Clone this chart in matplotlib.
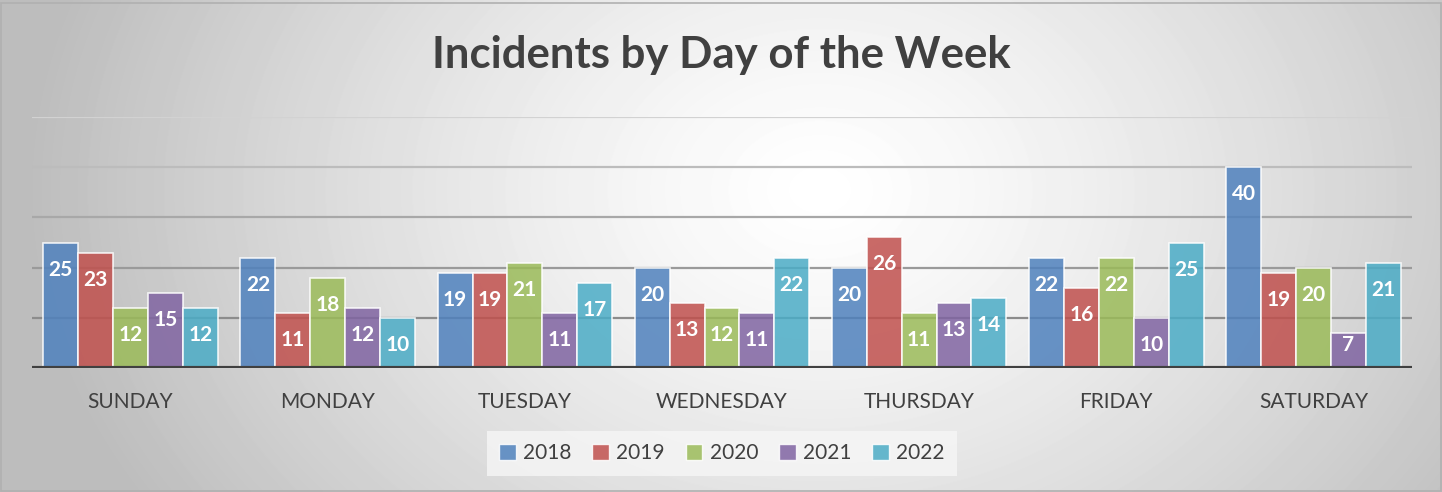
import numpy as np
import matplotlib.pyplot as plt
from matplotlib.patches import Patch, Rectangle

days = ['SUNDAY', 'MONDAY', 'TUESDAY', 'WEDNESDAY', 'THURSDAY', 'FRIDAY', 'SATURDAY']
years = ['2018', '2019', '2020', '2021', '2022']
v2018 = [25, 22, 19, 20, 20, 22, 40]
v2019 = [23, 11, 19, 13, 26, 16, 19]
v2020 = [12, 18, 21, 12, 11, 22, 20]
v2021 = [15, 12, 11, 11, 13, 10, 7]
v2022 = [12, 10, 17, 22, 14, 25, 21]
series = [v2018, v2019, v2020, v2021, v2022]
colors = ['#4F81BD', '#C0504D', '#9BBB59', '#8064A2', '#4BACC6']

plt.rcParams['font.family'] = ['Lato', 'DejaVu Sans']

fig = plt.figure(figsize=(14.42, 4.92), dpi=100)

# background gradient
bg = fig.add_axes([0, 0, 1, 1], zorder=-2)
yy, xx = np.mgrid[0:492, 0:1442]
d = np.sqrt(((xx - 820) / 1442.0) ** 2 + ((yy - 190) / 492.0 * 0.45) ** 2)
img = 1 - 0.26 * np.clip(d / 0.55, 0, 1) ** 1.3
bg.imshow(img, cmap='gray', vmin=0, vmax=1, aspect='auto', interpolation='bilinear')
bg.axis('off')
fig.patches.append(Rectangle((0.001, 0.002), 0.998, 0.992, transform=fig.transFigure,
                             fill=False, edgecolor='#b0b0b0', linewidth=1.2))

ax = fig.add_axes([32 / 1442, 124 / 492, 1380 / 1442, 251 / 492])
ax.set_facecolor('none')
ax.set_xlim(-0.5, 6.5)
ax.set_ylim(0, 50)

grid_cols = {10: '#8c8c8c', 20: '#9a9a9a', 30: '#a8a8a8', 40: '#bcbcbc', 50: '#d2d2d2'}
for g, c in grid_cols.items():
    ax.axhline(g, color=c, linewidth=1.6, zorder=0)

w = 0.177
x = np.arange(len(days))
for j, (vals, col) in enumerate(zip(series, colors)):
    xs = x + (j - 2) * w
    ax.bar(xs, vals, width=w, color=col, alpha=0.85, edgecolor=(1, 1, 1, 0.6),
           linewidth=1.2, zorder=2)
    for xi, v in zip(xs, vals):
        hpx = v * 251 / 50
        off = min(27, hpx - 23)
        ax.annotate(str(v), (xi, v), xytext=(0, -off), textcoords='offset pixels',
                    ha='center', va='center', color='white', fontsize=15,
                    fontweight='bold', zorder=3)

ax.axhline(0, color='#404040', linewidth=3, zorder=4)
ax.set_xticks(x)
ax.set_xticklabels(days, fontsize=15, color='#404040')
ax.tick_params(axis='x', length=0, pad=17)
ax.set_yticks([])
for s in ax.spines.values():
    s.set_visible(False)

fig.text(0.5, 1 - 55 / 492, 'Incidents by Day of the Week', ha='center', va='center',
         fontsize=31.5, fontweight='bold', color='#404040')

handles = [Patch(facecolor=c, edgecolor=(1, 1, 1, 0.6), alpha=0.85, label=y)
           for c, y in zip(colors, years)]
leg = fig.legend(handles=handles, loc='center', bbox_to_anchor=(722 / 1442, 1 - 453 / 492),
                 ncol=5, frameon=True, fontsize=15, handlelength=0.8, handleheight=0.8,
                 handletextpad=0.35, columnspacing=1.0, borderpad=0.6, fancybox=False)
leg.get_frame().set_facecolor('#f6f6f6')
leg.get_frame().set_edgecolor('none')
leg.get_frame().set_alpha(0.8)
for t in leg.get_texts():
    t.set_color('#404040')

fig.savefig('out.png', dpi=100)
